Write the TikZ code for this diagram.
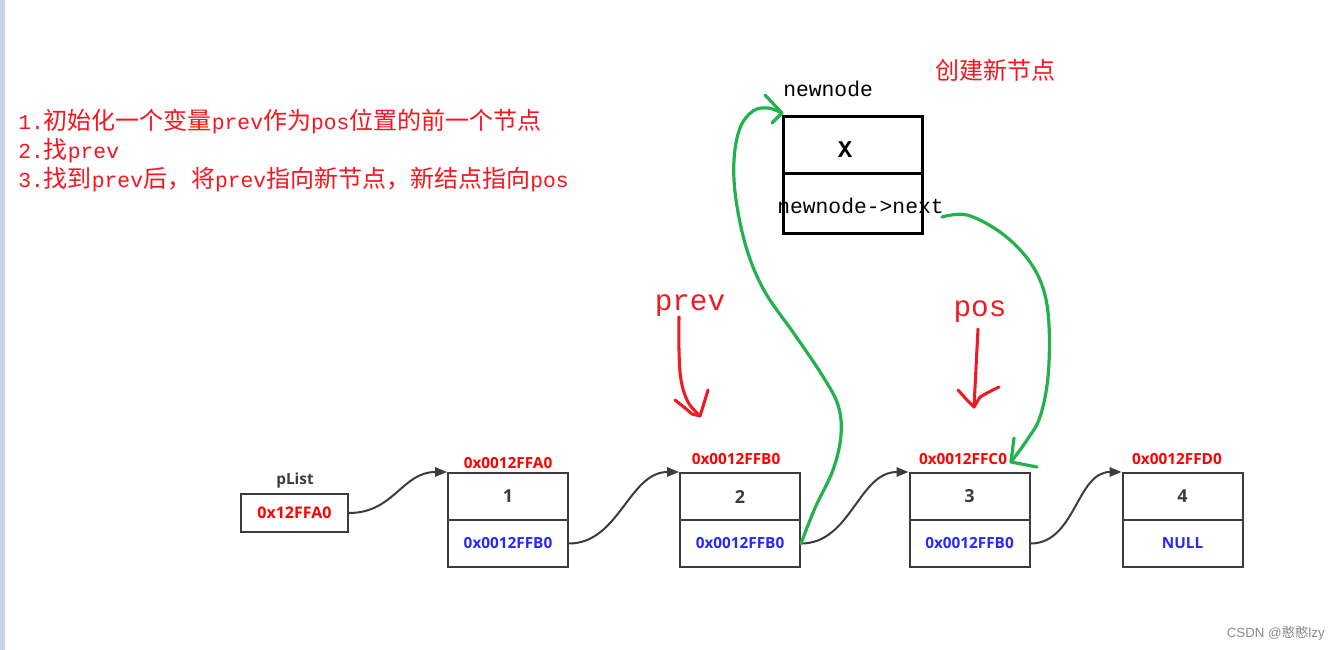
\documentclass[tikz,border=0pt]{standalone}
\usepackage{fontspec}
\setmainfont{Liberation Serif}
\newfontfamily\cjkf{Noto Sans CJK SC}
\newfontfamily\monof{Liberation Mono}
\newfontfamily\osf{Open Sans}
\newfontfamily\arialf{Liberation Sans}
\usetikzlibrary{arrows.meta}
\definecolor{tred}{RGB}{250,20,30}
\definecolor{hred}{RGB}{237,28,36}
\definecolor{pgreen}{RGB}{34,177,76}
\definecolor{dgray}{RGB}{60,60,60}
\definecolor{addrred}{RGB}{255,0,0}
\definecolor{addrblue}{RGB}{40,40,250}
\definecolor{stripc}{RGB}{200,211,228}
\newcommand{\latm}[1]{{\monof\fontsize{16pt}{18pt}\selectfont #1}}
\newcommand{\hanz}[1]{{\cjkf\fontsize{18pt}{20pt}\selectfont #1}}
\begin{document}
\begin{tikzpicture}[x=0.75pt,y=-0.75pt,
  toptext/.style={text=tred,inner sep=0pt,anchor=base west},
  cell/.style={draw=dgray,line width=1.5pt,minimum width=90pt,minimum height=35.25pt,inner sep=0pt},
  numtext/.style={font=\osf\bfseries\fontsize{13.5pt}{14pt}\selectfont,text=dgray},
  bluetext/.style={font=\osf\bfseries\fontsize{11.5pt}{12pt}\selectfont,text=addrblue},
  addr/.style={font=\osf\bfseries\fontsize{11.5pt}{12pt}\selectfont,text=addrred,inner sep=0pt},
  conn/.style={draw=dgray,line width=1.5pt,-{Triangle[length=9pt,width=7pt]}},
  nnbox/.style={draw=black,line width=2.25pt,minimum width=104.25pt,inner sep=0pt},
  gstroke/.style={draw=pgreen,line width=2.4pt,line cap=round,line join=round},
  rstroke/.style={draw=hred,line width=2.3pt,line cap=round,line join=round},
  monolab/.style={font=\monof\fontsize{16pt}{18pt}\selectfont,inner sep=0pt,anchor=base west},
  biglab/.style={font=\monof\fontsize{22pt}{24pt}\selectfont,text=hred,inner sep=0pt,anchor=base}
]
\fill[white] (0,0) rectangle (1340,650);
\useasboundingbox (0,0) rectangle (1340,650);
\fill[stripc] (0,0) rectangle (5,650);

% instructions
\node[toptext] (l1) at (18,129) {\latm{1.}\hanz{初始化一个变量}\latm{prev}\hanz{作为}\latm{pos}\hanz{位置的前一个节点}};
\node[toptext] (l2) at (18,158) {\latm{2.}\hanz{找}\latm{prev}};
\node[toptext] (l3) at (18,187) {\latm{3.}\hanz{找到}\latm{prev}\hanz{后，将}\latm{prev}\hanz{指向新节点，新结点指向}\latm{pos}};

% create new node
\node[text=tred,inner sep=0pt,anchor=west] (cj) at (935,70) {\hanz{创建新节点}};
\node[monolab] (nnlab) at (783,96) {newnode};
\node[nnbox,minimum height=42.75pt] (nnt) at (852.5,144.5) {};
\node[nnbox,minimum height=45pt] (nnb) at (852.5,203) {};
\node[font=\monof\bfseries\fontsize{18pt}{18pt}\selectfont,inner sep=0pt,anchor=base] (xl) at (845,157) {X};
\node[monolab] (nnext) at (777,213) {newnode->next};

% prev / pos labels
\node[biglab] (prevl) at (690,310) {prev};
\node[biglab] (posl) at (980,316) {pos};

% linked list
\node[cell,minimum width=80.25pt,minimum height=28.5pt,font=\osf\bfseries\fontsize{12pt}{12pt}\selectfont,text=addrred] (pl) at (294.5,513) {0x12FFA0};
\node[font=\osf\bfseries\fontsize{11.5pt}{12pt}\selectfont,text=dgray,inner sep=0pt] (pll) at (295,481) {pList};

\node[cell,numtext] (n1t) at (508,496.5) {1};
\node[cell,bluetext] (n1b) at (508,543.5) {0x0012FFB0};
\node[addr] (a1) at (508,463) {0x0012FFA0};

\node[cell,numtext] (n2t) at (740,496.5) {2};
\node[cell,bluetext] (n2b) at (740,543.5) {0x0012FFB0};
\node[addr] (a2) at (736,459) {0x0012FFB0};

\node[cell,numtext] (n3t) at (969.5,496.5) {3};
\node[cell,bluetext] (n3b) at (969.5,543.5) {0x0012FFB0};
\node[addr] (a3) at (963,459) {0x0012FFC0};

\node[cell,numtext] (n4t) at (1182.5,496.5) {4};
\node[cell,bluetext] (n4b) at (1182.5,543.5) {NULL};
\node[addr] (a4) at (1177,459) {0x0012FFD0};

\draw[conn] (pl.east) .. controls +(45,0) and +(-45,0) .. (n1t.north west);
\draw[conn] (n1b.east) .. controls +(50,0) and +(-50,0) .. (n2t.north west);
\draw[conn] (n2b.east) .. controls +(50,0) and +(-50,0) .. (n3t.north west);
\draw[conn] (n3b.east) .. controls +(45,0) and +(-45,0) .. (n4t.north west);

% green arrows
\coordinate (g1tip) at (782,113);
\draw[gstroke] plot[smooth,tension=0.6] coordinates {(n2b.east) (815,508) (833,470) (841,435) (838,405) (822,375) (795,335) (765,292) (747,250) (736,200) (734,160) (740,128) (753,111) (768,108) (g1tip)};
\draw[gstroke] (765,95) -- (g1tip) -- (772,123);

\coordinate (g2s) at (942,217);
\coordinate (g2tip) at (1011,462);
\draw[gstroke] plot[smooth,tension=0.6] coordinates {(g2s) (967,215) (1000,232) (1027,258) (1043,288) (1049,325) (1048,377) (1040,417) (1027,440) (g2tip)};
\draw[gstroke] (1014,438) -- (g2tip) -- (1037,467);

% red arrows
\coordinate (ps) at (679,317);
\coordinate (ptip) at (700,416);
\draw[rstroke] plot[smooth,tension=0.6] coordinates {(ps) (679,350) (681,380) (688,402) (ptip)};
\draw[rstroke] (675,400) -- (685,408) -- (692,414) -- (ptip) -- (705,400) -- (708,390);

\coordinate (qs) at (978,329);
\coordinate (qtip) at (974,407);
\draw[rstroke] (qs) -- (qtip);
\draw[rstroke] (958,390) -- (967,400) -- (qtip) -- (980,397) -- (987,393) -- (999,387);

% watermark
\node[font=\arialf\fontsize{10pt}{11pt}\selectfont,text=black!45,inner sep=0pt,anchor=east] (wm) at (1325,633) {CSDN @{\cjkf 憨憨}lzy};
\end{tikzpicture}
\end{document}
